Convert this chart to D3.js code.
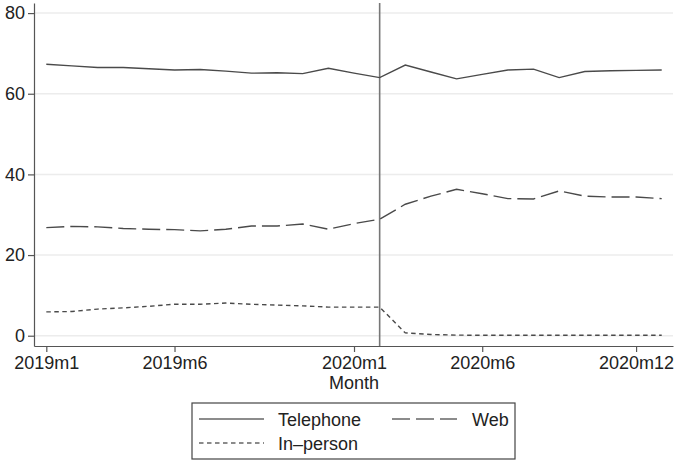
<!DOCTYPE html>
<html>
<head>
<meta charset="utf-8">
<script src="https://cdn.jsdelivr.net/npm/d3@7"></script>
<style>
  body { margin: 0; background: #fff; }
  text { font-family: "Liberation Sans", Arial, sans-serif; fill: #222; }
</style>
</head>
<body>
<div id="chart"></div>
<script>
// months 2019m1 .. 2021m1
var months = d3.range(25).map(function (i) {
  var y = 2019 + Math.floor(i / 12), m = (i % 12) + 1;
  return y + "m" + m;
});

var telephone = [67.3, 66.9, 66.5, 66.5, 66.2, 65.9, 66.0, 65.6, 65.1, 65.2, 65.0, 66.3,
                 65.1, 64.0, 67.1, 65.4, 63.7, 64.8, 65.9, 66.1, 64.0, 65.5, 65.7, 65.8, 65.9];
var web = [26.8, 27.1, 27.0, 26.6, 26.4, 26.3, 26.0, 26.4, 27.2, 27.2, 27.7, 26.4,
           27.8, 28.9, 32.6, 34.6, 36.3, 35.2, 34.0, 33.9, 35.9, 34.6, 34.4, 34.4, 34.0];
var inPerson = [5.9, 6.0, 6.6, 6.9, 7.3, 7.8, 7.8, 8.1, 7.8, 7.6, 7.4, 7.1,
                7.1, 7.1, 0.7, 0.3, 0.15, 0.1, 0.1, 0.1, 0.1, 0.1, 0.1, 0.1, 0.1];

var xTicks = [0, 5, 12, 17, 23];       // 2019m1, 2019m6, 2020m1, 2020m6, 2020m12
var yTicks = [0, 20, 40, 60, 80];
var breakMonth = 13;                    // 2020m2

var series = [
  {name: "Telephone", values: telephone, dash: null},
  {name: "Web", values: web, dash: "18,6"},
  {name: "In\u2013person", values: inPerson, dash: "4.5,3.5"}
];

var width = 679, height = 463;
var fs = "18px";

var svg = d3.select("#chart")
  .append("svg")
    .attr("width", width)
    .attr("height", height);

var x = d3.scaleLinear()
    .domain([-0.48, 24.44])
    .range([34, 673]);

var y = d3.scaleLinear()
    .domain([-2.55, 82.5])
    .range([346, 3]);

// gridlines
svg.append("g")
  .selectAll("line")
  .data(yTicks)
  .enter()
  .append("line")
    .attr("x1", 35)
    .attr("x2", 673)
    .attr("y1", function (d) { return y(d); })
    .attr("y2", function (d) { return y(d); })
    .style("stroke", "#ececec")
    .style("stroke-width", 1.5);

// axes
var yAxis = svg.append("g")
    .attr("transform", "translate(34,0)")
    .call(d3.axisLeft(y).tickValues(yTicks).tickSize(6).tickPadding(3).tickSizeOuter(0));

var xAxis = svg.append("g")
    .attr("transform", "translate(0,346)")
    .call(d3.axisBottom(x).tickValues(xTicks)
      .tickFormat(function (d) { return months[d]; })
      .tickSize(6).tickPadding(4).tickSizeOuter(0));

[yAxis, xAxis].forEach(function (a) {
  a.selectAll("path, line").style("stroke", "#555").style("stroke-width", 1.2);
  a.selectAll("text")
    .style("font-family", "'Liberation Sans', Arial, sans-serif")
    .style("font-size", fs)
    .style("fill", "#222");
});

svg.append("text")
    .attr("x", 354)
    .attr("y", 389)
    .attr("text-anchor", "middle")
    .style("font-size", fs)
    .text("Month");

// break line
svg.append("line")
    .attr("x1", x(breakMonth))
    .attr("x2", x(breakMonth))
    .attr("y1", 3)
    .attr("y2", 346)
    .style("stroke", "#777")
    .style("stroke-width", 1.6);

var line = d3.line()
    .x(function (d, i) { return x(i); })
    .y(function (d) { return y(d); });

svg.selectAll(".series")
  .data(series)
  .enter()
  .append("path")
    .attr("class", "series")
    .attr("d", function (d) { return line(d.values); })
    .style("fill", "none")
    .style("stroke", "#4a4a4a")
    .style("stroke-width", 1.4)
    .style("stroke-dasharray", function (d) { return d.dash; });

// legend
var legend = svg.append("g");
legend.append("rect")
    .attr("x", 192)
    .attr("y", 403)
    .attr("width", 323)
    .attr("height", 56)
    .style("fill", "#fff")
    .style("stroke", "#444")
    .style("stroke-width", 1.2);

var legendPos = [
  {lx: 199, ty: 426},
  {lx: 392, ty: 426},
  {lx: 199, ty: 450}
];

series.forEach(function (s, i) {
  var p = legendPos[i];
  legend.append("line")
      .attr("x1", p.lx)
      .attr("x2", p.lx + 65)
      .attr("y1", p.ty - 7)
      .attr("y2", p.ty - 7)
      .style("stroke", "#666")
      .style("stroke-width", 1.4)
      .style("stroke-dasharray", s.dash);
  legend.append("text")
      .attr("x", i === 1 ? 472 : 278)
      .attr("y", p.ty)
      .style("font-size", fs)
      .text(s.name);
});
</script>
</body>
</html>
